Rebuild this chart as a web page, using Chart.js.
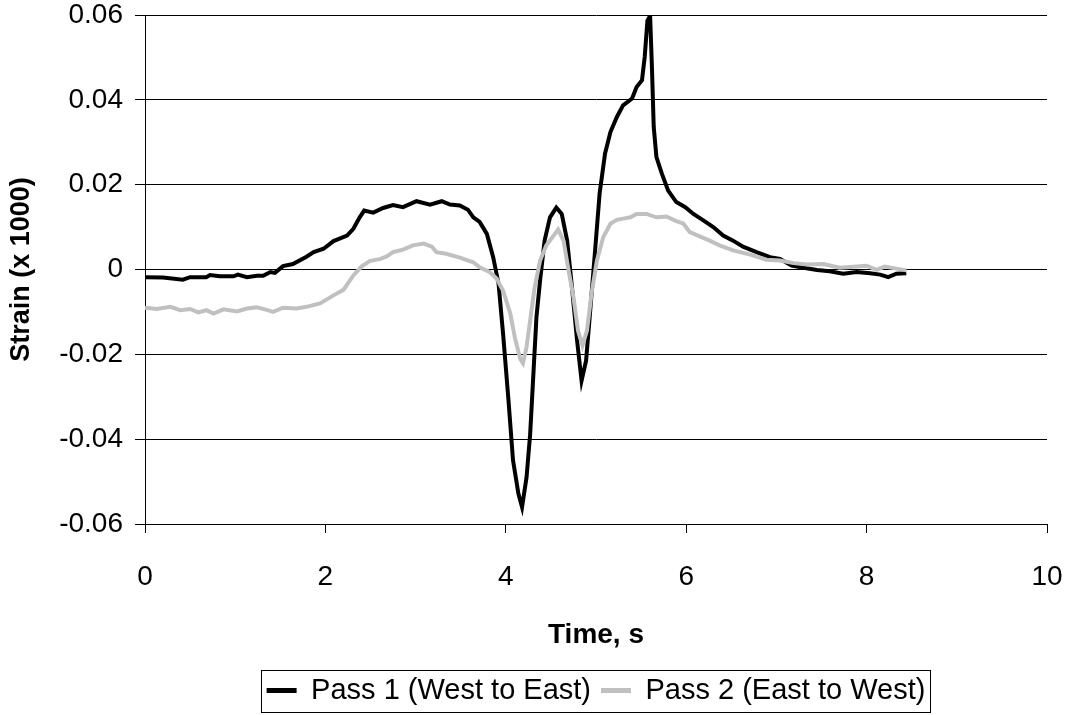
<!DOCTYPE html>
<html>
<head>
<meta charset="utf-8">
<script src="https://cdn.jsdelivr.net/npm/chart.js@4.4.1/dist/chart.umd.min.js"></script>
<style>
  html, body { margin: 0; padding: 0; background: #fff; }
  #wrap { width: 1070px; height: 715px; }
</style>
</head>
<body>
<div id="wrap"><canvas id="chart" width="1070" height="715"></canvas></div>
<script>
// Pass 1 (West to East) - time in s, strain x 1000
const time1 = [0.00, 0.20, 0.42, 0.50, 0.68, 0.72, 0.83, 0.98, 1.03, 1.13, 1.24, 1.31, 1.39, 1.44, 1.53, 1.64,
  1.79, 1.87, 1.98, 2.09, 2.24, 2.31, 2.38, 2.43, 2.53, 2.64, 2.75, 2.86, 3.01, 3.16, 3.29, 3.38, 3.49, 3.58,
  3.64, 3.71, 3.79, 3.86, 3.92, 3.97, 4.03, 4.08, 4.14, 4.18, 4.23, 4.27, 4.31, 4.34, 4.38, 4.43, 4.49, 4.56,
  4.62, 4.68, 4.73, 4.79, 4.84, 4.89, 4.93, 4.99, 5.04, 5.10, 5.16, 5.23, 5.30, 5.40, 5.45, 5.51, 5.54, 5.57,
  5.60, 5.62, 5.64, 5.67, 5.73, 5.80, 5.89, 5.99, 6.08, 6.19, 6.30, 6.41, 6.52, 6.63, 6.78, 6.93, 7.04, 7.17,
  7.30, 7.45, 7.59, 7.74, 7.89, 8.04, 8.15, 8.24, 8.33, 8.44];
const strain1 = [-0.0018, -0.0019, -0.0024, -0.0018, -0.0018, -0.0013, -0.0016, -0.0016, -0.0012, -0.0018, -0.0015, -0.0015, -0.0006, -0.0008, 0.0008, 0.0013,
  0.0030, 0.0041, 0.0049, 0.0067, 0.0080, 0.0096, 0.0123, 0.0139, 0.0134, 0.0145, 0.0152, 0.0147, 0.0161, 0.0153, 0.0161, 0.0153, 0.0151, 0.0141,
  0.0123, 0.0112, 0.0084, 0.0029, -0.0034, -0.0152, -0.0309, -0.0450, -0.0529, -0.0560, -0.0490, -0.0388, -0.0230, -0.0112, -0.0026, 0.0068, 0.0123, 0.0146,
  0.0131, 0.0068, -0.0034, -0.0167, -0.0262, -0.0215, -0.0112, 0.0045, 0.0179, 0.0273, 0.0324, 0.0359, 0.0387, 0.0403, 0.0430, 0.0446, 0.0501, 0.0587,
  0.0598, 0.0477, 0.0336, 0.0265, 0.0226, 0.0186, 0.0159, 0.0147, 0.0131, 0.0116, 0.0100, 0.0080, 0.0068, 0.0054, 0.0041, 0.0029, 0.0025, 0.0009,
  0.0004, -0.0001, -0.0004, -0.0010, -0.0006, -0.0009, -0.0012, -0.0018, -0.0010, -0.0009];

// Pass 2 (East to West)
const time2 = [0.00, 0.13, 0.28, 0.39, 0.50, 0.59, 0.68, 0.76, 0.87, 1.02, 1.13, 1.24, 1.35, 1.42, 1.53, 1.68,
  1.79, 1.94, 2.09, 2.20, 2.31, 2.40, 2.49, 2.61, 2.68, 2.75, 2.86, 2.97, 3.09, 3.18, 3.23, 3.34, 3.49, 3.64,
  3.71, 3.82, 3.90, 3.97, 4.05, 4.10, 4.16, 4.19, 4.23, 4.27, 4.32, 4.38, 4.45, 4.53, 4.58, 4.64, 4.69, 4.75,
  4.80, 4.85, 4.90, 4.95, 5.01, 5.08, 5.16, 5.23, 5.30, 5.38, 5.45, 5.56, 5.67, 5.78, 5.89, 5.97, 6.04, 6.15,
  6.26, 6.37, 6.52, 6.71, 6.89, 7.04, 7.19, 7.34, 7.52, 7.70, 7.89, 8.00, 8.11, 8.20, 8.33, 8.44];
const strain2 = [-0.0090, -0.0093, -0.0088, -0.0096, -0.0093, -0.0101, -0.0096, -0.0104, -0.0094, -0.0099, -0.0092, -0.0089, -0.0095, -0.0100, -0.0090, -0.0092,
  -0.0088, -0.0080, -0.0061, -0.0048, -0.0014, 0.0007, 0.0020, 0.0025, 0.0031, 0.0041, 0.0047, 0.0057, 0.0061, 0.0054, 0.0041, 0.0037, 0.0028, 0.0017,
  0.0005, -0.0006, -0.0022, -0.0050, -0.0104, -0.0160, -0.0211, -0.0221, -0.0183, -0.0120, -0.0042, 0.0021, 0.0057, 0.0080, 0.0094, 0.0068, 0.0005, -0.0065,
  -0.0144, -0.0179, -0.0144, -0.0057, 0.0021, 0.0076, 0.0108, 0.0117, 0.0120, 0.0123, 0.0131, 0.0131, 0.0123, 0.0125, 0.0114, 0.0108, 0.0088, 0.0078,
  0.0068, 0.0057, 0.0045, 0.0035, 0.0023, 0.0021, 0.0015, 0.0012, 0.0013, 0.0004, 0.0007, 0.0009, -0.0001, 0.0007, 0.0002, -0.0002];

const xTicks = [0, 2, 4, 6, 8, 10];
const yTicks = [-0.06, -0.04, -0.02, 0, 0.02, 0.04, 0.06];

const seriesNames = ['Pass 1 (West to East)', 'Pass 2 (East to West)'];

const FONT = "'Liberation Sans', Arial, sans-serif";

function toPoints(xs, ys) {
  return xs.map((x, i) => ({ x: x, y: ys[i] }));
}

// box round the legend, like the Excel one
const legendBox = {
  id: 'legendBox',
  afterDraw(chart) {
    const lg = chart.legend;
    if (!lg || !lg.legendHitBoxes || !lg.legendHitBoxes.length) return;
    let l = Infinity, r = -Infinity, t = Infinity;
    lg.legendHitBoxes.forEach(h => {
      l = Math.min(l, h.left); r = Math.max(r, h.left + h.width);
      t = Math.min(t, h.top);
    });
    const ctx = chart.ctx;
    ctx.save();
    ctx.strokeStyle = '#000';
    ctx.lineWidth = 1;
    ctx.strokeRect(Math.round(l - 6) + 0.5, Math.round(t - 6) + 0.5, Math.round(r - l + 10), 42);
    ctx.restore();
  }
};

const ctx = document.getElementById('chart').getContext('2d');
new Chart(ctx, {
  type: 'line',
  data: {
    datasets: [
      {
        label: seriesNames[0],
        data: toPoints(time1, strain1),
        borderColor: '#000000',
        backgroundColor: '#000000',
        borderWidth: 4,
        pointRadius: 0,
        tension: 0,
        order: 2
      },
      {
        label: seriesNames[1],
        data: toPoints(time2, strain2),
        borderColor: '#c0c0c0',
        backgroundColor: '#c0c0c0',
        borderWidth: 4,
        pointRadius: 0,
        tension: 0,
        order: 1
      }
    ]
  },
  options: {
    responsive: false,
    animation: false,
    layout: { padding: { top: 15, right: 23, left: 0, bottom: 0 } },
    plugins: {
      tooltip: { enabled: false },
      legend: {
        position: 'bottom',
        fullSize: false,
        labels: {
          sort: (a, b) => a.datasetIndex - b.datasetIndex,
          color: '#000',
          font: { family: FONT, size: 29 },
          boxWidth: 30,
          boxHeight: 5,
          padding: 10,
          generateLabels(chart) {
            return chart.data.datasets.map((ds, i) => ({
              text: ds.label,
              fillStyle: ds.borderColor,
              strokeStyle: ds.borderColor,
              lineWidth: 0,
              datasetIndex: i
            }));
          }
        }
      }
    },
    scales: {
      x: {
        type: 'linear',
        min: 0,
        max: 10,
        afterBuildTicks(scale) { scale.ticks = xTicks.map(v => ({ value: v })); },
        afterFit(scale) {
          scale.height = 142;
          scale.paddingLeft = 0;
          scale.paddingRight = 0;
        },
        ticks: {
          color: '#000',
          font: { family: FONT, size: 28 },
          padding: 27,
          maxRotation: 0
        },
        grid: {
          drawOnChartArea: false,
          drawTicks: true,
          tickLength: 9,
          color: '#000'
        },
        border: { display: true, color: '#000', width: 1 },
        title: {
          display: true,
          text: 'Time, s',
          color: '#000',
          font: { family: FONT, size: 28, weight: 'bold' },
          padding: { top: 0, bottom: 14 }
        }
      },
      y: {
        type: 'linear',
        min: -0.06,
        max: 0.06,
        afterBuildTicks(scale) { scale.ticks = yTicks.map(v => ({ value: v })); },
        afterFit(scale) {
          scale.width = 145;
          scale.paddingTop = 0;
          scale.paddingBottom = 0;
        },
        ticks: {
          color: '#000',
          font: { family: FONT, size: 28 },
          padding: 12,
          callback: v => {
            const r = Math.round(v * 100) / 100;
            return r === 0 ? '0' : String(r);
          }
        },
        grid: {
          drawTicks: true,
          tickLength: 10,
          color: '#000',
          lineWidth: 1
        },
        border: { display: true, color: '#000', width: 1 },
        title: {
          display: true,
          text: 'Strain (x 1000)',
          color: '#000',
          font: { family: FONT, size: 27, weight: 'bold' },
          padding: { top: 5, bottom: 0 }
        }
      }
    }
  },
  plugins: [legendBox]
});
</script>
</body>
</html>
